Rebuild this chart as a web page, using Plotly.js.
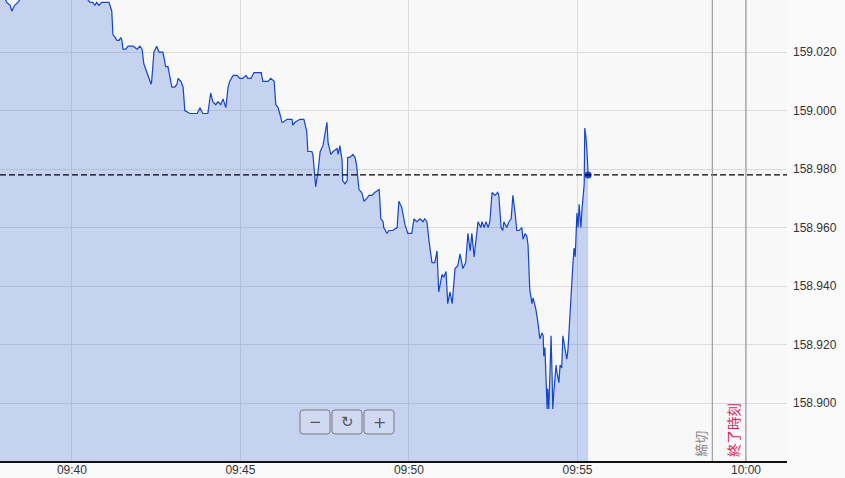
<!DOCTYPE html>
<html>
<head>
<meta charset="utf-8">
<script src="https://cdn.plot.ly/plotly-3.0.1.min.js"></script>
<style>
html,body{margin:0;padding:0;background:#f9f9f9;}
#chart{width:845px;height:478px;}
</style>
</head>
<body>
<div id="chart"></div>
<script>
// ---- data ----
const sessionDate = '2024-06-14';
const times = [
'09:37:48','09:37:59','09:38:04','09:38:10','09:38:13','09:38:18','09:38:24','09:38:31','09:39:03','09:39:39',
'09:40:14','09:40:28','09:40:32','09:40:37','09:40:41','09:40:44','09:40:48','09:40:53','09:40:59','09:41:06',
'09:41:11','09:41:13','09:41:17','09:41:20','09:41:24','09:41:27','09:41:29','09:41:31','09:41:36','09:41:40',
'09:41:49','09:41:56','09:42:01','09:42:05','09:42:08','09:42:14','09:42:21','09:42:22','09:42:26','09:42:31',
'09:42:35','09:42:42','09:42:47','09:42:51','09:42:58','09:43:03','09:43:07','09:43:09','09:43:14','09:43:18',
'09:43:21','09:43:30','09:43:35','09:43:39','09:43:43','09:43:48','09:43:53','09:44:00','09:44:02','09:44:07',
'09:44:11','09:44:16','09:44:20','09:44:25','09:44:29','09:44:34','09:44:38','09:44:41','09:44:47','09:44:54',
'09:44:59','09:45:04','09:45:10','09:45:13','09:45:19','09:45:24','09:45:29','09:45:31','09:45:37','09:45:40',
'09:45:49','09:45:54','09:46:00','09:46:03','09:46:07','09:46:10','09:46:14','09:46:16','09:46:23','09:46:26',
'09:46:32','09:46:33','09:46:37','09:46:46','09:46:53','09:46:58','09:47:00','09:47:04','09:47:07','09:47:09',
'09:47:14','09:47:18','09:47:22','09:47:27','09:47:30','09:47:34','09:47:36','09:47:39','09:47:41','09:47:45',
'09:47:52','09:47:54','09:47:57','09:48:01','09:48:02','09:48:06','09:48:10','09:48:11','09:48:15','09:48:20',
'09:48:24','09:48:27','09:48:31','09:48:36','09:48:40','09:48:45','09:48:49','09:48:54','09:48:59','09:49:07',
'09:49:10','09:49:14','09:49:15','09:49:21','09:49:24','09:49:31','09:49:37','09:49:39','09:49:42','09:49:47',
'09:49:49','09:49:53','09:49:58','09:50:05','09:50:09','09:50:14','09:50:20','09:50:25','09:50:28','09:50:32',
'09:50:36','09:50:41','09:50:46','09:50:50','09:50:53','09:50:59','09:51:02','09:51:06','09:51:09','09:51:13',
'09:51:17','09:51:22','09:51:27','09:51:31','09:51:36','09:51:41','09:51:45','09:51:49','09:51:52','09:51:56',
'09:52:03','09:52:08','09:52:10','09:52:14','09:52:17','09:52:21','09:52:24','09:52:28','09:52:33','09:52:38',
'09:52:40','09:52:44','09:52:47','09:52:49','09:52:54','09:52:58','09:53:02','09:53:05','09:53:09','09:53:12',
'09:53:16','09:53:21','09:53:23','09:53:27','09:53:30','09:53:32','09:53:35','09:53:39','09:53:41','09:53:46',
'09:53:50','09:53:53','09:53:57','09:53:59','09:54:00','09:54:02','09:54:06','09:54:07','09:54:09','09:54:13',
'09:54:15','09:54:16','09:54:18','09:54:22','09:54:23','09:54:27','09:54:29','09:54:32','09:54:34','09:54:38',
'09:54:41','09:54:43','09:54:47','09:54:50','09:54:52','09:54:54','09:54:56','09:54:59','09:55:01','09:55:03',
'09:55:06','09:55:08','09:55:10','09:55:12','09:55:13','09:55:15','09:55:17','09:55:19'
];
const prices = [
159.041,159.039,159.037,159.036,159.034,159.036,159.037,159.039,159.043,159.042,
159.039,159.038,159.037,159.037,159.036,159.037,159.036,159.037,159.037,159.037,
159.034,159.026,159.025,159.024,159.024,159.025,159.024,159.021,159.021,159.022,
159.022,159.021,159.022,159.021,159.016,159.013,159.009,159.010,159.020,159.022,
159.020,159.020,159.015,159.015,159.008,159.008,159.009,159.011,159.010,159.008,
159.000,158.999,158.999,158.999,158.999,159.001,158.999,158.999,158.999,159.006,
159.003,159.002,159.003,159.002,159.004,159.001,159.008,159.010,159.012,159.012,
159.011,159.011,159.012,159.011,159.011,159.013,159.013,159.013,159.013,159.010,
159.010,159.011,159.010,159.002,159.001,158.999,158.996,158.996,158.997,158.997,
158.997,158.995,158.996,158.997,158.997,158.993,158.986,158.986,158.986,158.985,
158.974,158.979,158.986,158.988,158.991,158.996,158.989,158.986,158.985,158.986,
158.987,158.985,158.988,158.983,158.976,158.975,158.976,158.984,158.984,158.985,
158.984,158.981,158.973,158.972,158.969,158.970,158.971,158.971,158.972,158.973,
158.963,158.962,158.960,158.958,158.959,158.959,158.960,158.960,158.969,158.967,
158.965,158.961,158.958,158.958,158.963,158.962,158.963,158.962,158.963,158.962,
158.955,158.948,158.948,158.952,158.938,158.944,158.943,158.945,158.934,158.938,
158.934,158.946,158.947,158.951,158.946,158.948,158.958,158.952,158.958,158.950,
158.962,158.960,158.962,158.960,158.962,158.960,158.962,158.972,158.971,158.972,
158.971,158.960,158.959,158.962,158.960,158.962,158.963,158.971,158.965,158.959,
158.959,158.960,158.956,158.958,158.957,158.954,158.939,158.934,158.936,158.932,
158.927,158.922,158.924,158.923,158.916,158.919,158.898,158.905,158.898,158.923,
158.908,158.898,158.904,158.913,158.911,158.907,158.913,158.912,158.923,158.919,
158.915,158.918,158.933,158.940,158.948,158.953,158.950,158.965,158.960,158.968,
158.960,158.966,158.970,158.975,158.994,158.991,158.986,158.978
];
const yTicks = [158.900, 158.920, 158.940, 158.960, 158.980, 159.000, 159.020];
const xTickTimes = ['09:40:00','09:45:00','09:50:00','09:55:00','10:00:00'];
const xTickLabels = ['09:40','09:45','09:50','09:55','10:00'];
const viewStart = '09:37:52', viewEnd = '10:01:13';
const yMin = 158.8802, yMax = 159.0378;
const cutoffTime = '09:59:00', cutoffLabel = '締切';
const endTime = '10:00:00', endLabel = '終了時刻';

// ---- build ----
const d = t => sessionDate + ' ' + t;
const xs = times.map(d);
const lastX = xs[xs.length - 1], lastP = prices[prices.length - 1];
const lineColor = '#1646c8';

const traces = [
  {x: xs, y: prices, type: 'scatter', mode: 'lines', fill: 'tozeroy',
   fillcolor: 'rgba(63,113,220,0.28)', line: {color: lineColor, width: 1.2}, hoverinfo: 'skip'},
  {x: [lastX], y: [lastP], type: 'scatter', mode: 'markers',
   marker: {color: lineColor, size: 7}, hoverinfo: 'skip'}
];

function rr(x0, x1, y0, y1, r) {
  return `M${x0+r},${y0} L${x1-r},${y0} Q${x1},${y0} ${x1},${y0+r} L${x1},${y1-r} Q${x1},${y1} ${x1-r},${y1} L${x0+r},${y1} Q${x0},${y1} ${x0},${y1-r} L${x0},${y0+r} Q${x0},${y0} ${x0+r},${y0} Z`;
}
const btnShape = (x0, x1) => ({type: 'path', xref: 'paper', yref: 'paper', xsizemode: 'pixel', ysizemode: 'pixel',
  xanchor: 0, yanchor: 0, path: rr(x0, x1, 27, 51, 3), line: {color: '#7a7a7a', width: 1},
  fillcolor: 'rgba(255,255,255,0.18)', layer: 'above'});

const shapes = [
  {type: 'line', xref: 'paper', yref: 'y', x0: 0, x1: 1, y0: lastP, y1: lastP,
   line: {color: '#000', width: 1.1, dash: '6px,3px'}},
  {type: 'line', xref: 'x', yref: 'paper', x0: d(cutoffTime), x1: d(cutoffTime), y0: 0, y1: 1,
   line: {color: '#8c8c8c', width: 1}},
  {type: 'line', xref: 'x', yref: 'paper', x0: d(endTime), x1: d(endTime), y0: 0, y1: 1,
   line: {color: '#8c8c8c', width: 1}},
  btnShape(300, 330), btnShape(332, 362), btnShape(364, 394)
];

const btnAnn = (px, txt, sz) => ({xref: 'paper', yref: 'paper', x: px / 787, y: 39 / 461, text: txt,
  showarrow: false, xanchor: 'center', yanchor: 'middle', font: {family: 'DejaVu Sans', size: sz, color: '#555'}});

const annotations = [
  {xref: 'x', yref: 'paper', x: d(cutoffTime), y: 0, xanchor: 'right', yanchor: 'bottom', xshift: -1, yshift: 2,
   text: cutoffLabel, textangle: -90, showarrow: false,
   font: {family: 'Noto Sans CJK JP', size: 13, color: '#888'}},
  {xref: 'x', yref: 'paper', x: d(endTime), y: 0, xanchor: 'right', yanchor: 'bottom', xshift: -1, yshift: 2,
   text: endLabel, textangle: -90, showarrow: false,
   font: {family: 'Noto Sans CJK JP', size: 13.5, color: '#e0205a'}},
  btnAnn(315, '−', 15), btnAnn(347, '↻', 15), btnAnn(379, '+', 16)
];

const layout = {
  width: 845, height: 478,
  margin: {l: 0, r: 58, t: 0, b: 17, pad: 0},
  paper_bgcolor: '#fafafa', plot_bgcolor: '#f8f8f8',
  showlegend: false,
  font: {family: 'Liberation Sans, Arial, sans-serif', size: 12, color: '#333'},
  xaxis: {type: 'date', range: [d(viewStart), d(viewEnd)], tickmode: 'array',
    tickvals: xTickTimes.map(d), ticktext: xTickLabels, showgrid: true, gridcolor: '#dcdcdc',
    showline: true, linecolor: '#111', linewidth: 1.5, zeroline: false, ticks: '', fixedrange: true,
    ticklabelstandoff: -3},
  yaxis: {side: 'right', range: [yMin, yMax], tickmode: 'array', tickvals: yTicks,
    ticktext: yTicks.map(v => v.toFixed(3)), showgrid: true, gridcolor: '#dcdcdc',
    zeroline: false, showline: false, ticks: '', ticklabelstandoff: 5, fixedrange: true},
  shapes: shapes, annotations: annotations, hovermode: false
};

Plotly.newPlot('chart', traces, layout, {displayModeBar: false, staticPlot: true});
</script>
</body>
</html>
